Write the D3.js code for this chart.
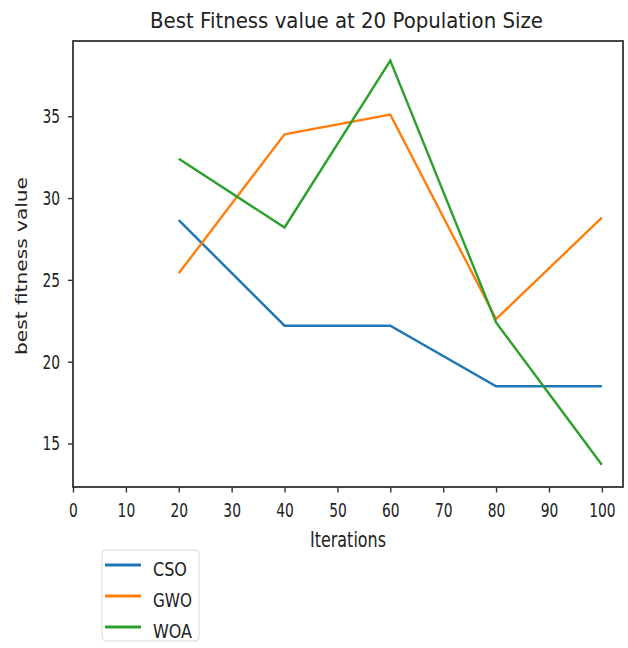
<!DOCTYPE html>
<html>
<head>
<meta charset="utf-8">
<script src="https://cdn.jsdelivr.net/npm/d3@7"></script>
<style>
  body { margin: 0; background: #fff; }
  text { font-family: "DejaVu Sans", sans-serif; fill: #222; }
</style>
</head>
<body>
<script>
// data
let iterations = [20, 40, 60, 80, 100]
let cso = [28.65, 22.2, 22.2, 18.5, 18.5]
let gwo = [25.4, 33.9, 35.1, 22.6, 28.8]
let woa = [32.4, 28.2, 38.4, 22.4, 13.7]
let seriesNames = ["CSO", "GWO", "WOA"]
let xTicks = [0, 10, 20, 30, 40, 50, 60, 70, 80, 90, 100]
let yTicks = [15, 20, 25, 30, 35]

let w = 628
let h = 648
let m = {left: 73, right: 5, top: 41, bottom: 161}

let svg = d3.select("body").append("svg")
    .attr("width", w)
    .attr("height", h)

let x = d3.scaleLinear().domain([0, 104]).range([m.left, w - m.right])
let y = d3.scaleLinear().domain([12.34, 39.6]).range([h - m.bottom, m.top])

function colors(i) {
    let c = ["#1f77b4", "#ff7f0e", "#2ca02c"]
    return c[i]
}

// the picture is squeezed sideways, so text is fitted to a width
function squeeze(sel, len) {
    return sel.attr("textLength", len).attr("lengthAdjust", "spacingAndGlyphs")
}

// axes
let xAxis = svg.append("g")
    .attr("transform", `translate(0,${h - m.bottom})`)
    .call(d3.axisBottom(x).tickValues(xTicks).tickSize(5.5).tickPadding(10))
let yAxis = svg.append("g")
    .attr("transform", `translate(${m.left},0)`)
    .call(d3.axisLeft(y).tickValues(yTicks).tickSize(5).tickPadding(8))
;[xAxis, yAxis].forEach(a => {
    a.select(".domain").remove()
    a.selectAll("line").attr("stroke", "#333").attr("stroke-width", 1.4)
    a.selectAll("text").style("font-size", "20px").style("font-family", "DejaVu Sans").attr("fill", "#222")
        .attr("textLength", d => String(d).length * 8.8)
        .attr("lengthAdjust", "spacingAndGlyphs")
})

// frame
svg.append("rect")
    .attr("x", m.left)
    .attr("y", m.top)
    .attr("width", w - m.right - m.left)
    .attr("height", h - m.bottom - m.top)
    .attr("fill", "none")
    .attr("stroke", "#333")
    .attr("stroke-width", 1.8)

// lines
let line = d3.line().x((d, i) => x(iterations[i])).y(d => y(d))
;[cso, gwo, woa].forEach((s, i) => {
    svg.append("path")
        .datum(s)
        .attr("d", line)
        .attr("fill", "none")
        .attr("stroke", colors(i))
        .attr("stroke-width", 2.4)
})

// labels
svg.append("text")
    .attr("x", 346.5)
    .attr("y", 28)
    .attr("text-anchor", "middle")
    .style("font-size", "22px")
    .text("Best Fitness value at 20 Population Size")
    .call(squeeze, 393)
svg.append("text")
    .attr("x", 348)
    .attr("y", 547)
    .attr("text-anchor", "middle")
    .style("font-size", "22px")
    .text("Iterations")
    .call(squeeze, 76)
svg.append("text")
    .attr("transform", "translate(27,266) rotate(-90)")
    .attr("text-anchor", "middle")
    .style("font-size", "16px")
    .text("best fitness value")
    .call(squeeze, 178)

// legend
let lg = svg.append("g").attr("transform", "translate(102,550)")
lg.append("rect")
    .attr("width", 97)
    .attr("height", 91)
    .attr("rx", 4)
    .attr("fill", "#fff")
    .attr("stroke", "#d8d8d8")
let legendWidths = [34, 39, 39]
seriesNames.forEach((n, i) => {
    let yy = 15 + i * 31
    lg.append("line")
        .attr("x1", 3).attr("x2", 39)
        .attr("y1", yy).attr("y2", yy)
        .attr("stroke", colors(i))
        .attr("stroke-width", 2.8)
    lg.append("text")
        .attr("x", 51)
        .attr("y", yy + 11)
        .style("font-size", "19px")
        .text(n)
        .call(squeeze, legendWidths[i])
})
</script>
</body>
</html>
